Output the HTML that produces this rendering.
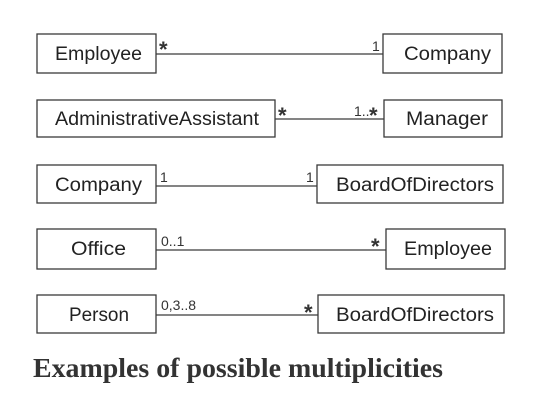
<!DOCTYPE html>
<html><head><meta charset="utf-8"><style>
html,body{margin:0;padding:0;background:#fff;}
svg{display:block;}
.b{fill:#fff;stroke:#3a3a3a;stroke-width:1.3;}
.l{stroke:#3a3a3a;stroke-width:1.3;}
.t{font-family:"Liberation Sans",sans-serif;font-size:19px;fill:#222;}
.m{font-family:"Liberation Sans",sans-serif;font-size:14px;fill:#333;}
.s{font-family:"Liberation Sans",sans-serif;font-size:22px;fill:#333;font-weight:bold;}
.c{font-family:"Liberation Serif",serif;font-size:27px;fill:#333;font-weight:bold;}
</style></head><body>
<svg width="559" height="401" viewBox="0 0 559 401" xmlns="http://www.w3.org/2000/svg">
<line class="l" x1="156" y1="54" x2="383" y2="54"/>
<rect class="b" x="37" y="34" width="119" height="39"/>
<rect class="b" x="383" y="34" width="119" height="39"/>
<text class="t" x="55" y="60" textLength="87" lengthAdjust="spacingAndGlyphs">Employee</text>
<text class="t" x="404" y="60" textLength="87" lengthAdjust="spacingAndGlyphs">Company</text>
<text class="s" x="159" y="57">*</text>
<text class="m" x="372" y="51">1</text>
<line class="l" x1="275" y1="119" x2="384" y2="119"/>
<rect class="b" x="37" y="100" width="238" height="37"/>
<rect class="b" x="384" y="100" width="118" height="37"/>
<text class="t" x="55" y="125" textLength="204" lengthAdjust="spacingAndGlyphs">AdministrativeAssistant</text>
<text class="t" x="406" y="125" textLength="82" lengthAdjust="spacingAndGlyphs">Manager</text>
<text class="s" x="278" y="123">*</text>
<text class="m" x="354" y="116">1..</text>
<text class="s" x="369" y="123">*</text>
<line class="l" x1="156" y1="186" x2="317" y2="186"/>
<rect class="b" x="37" y="165" width="119" height="38"/>
<rect class="b" x="317" y="165" width="186" height="38"/>
<text class="t" x="55" y="191" textLength="87" lengthAdjust="spacingAndGlyphs">Company</text>
<text class="t" x="336" y="191" textLength="158" lengthAdjust="spacingAndGlyphs">BoardOfDirectors</text>
<text class="m" x="160" y="182">1</text>
<text class="m" x="306" y="182">1</text>
<line class="l" x1="156" y1="250" x2="386" y2="250"/>
<rect class="b" x="37" y="229" width="119" height="40"/>
<rect class="b" x="386" y="229" width="119" height="40"/>
<text class="t" x="71" y="255" textLength="55" lengthAdjust="spacingAndGlyphs">Office</text>
<text class="t" x="404" y="255" textLength="88" lengthAdjust="spacingAndGlyphs">Employee</text>
<text class="m" x="161" y="246">0..1</text>
<text class="s" x="371" y="254">*</text>
<line class="l" x1="156" y1="315" x2="318" y2="315"/>
<rect class="b" x="37" y="295" width="119" height="38"/>
<rect class="b" x="318" y="295" width="186" height="38"/>
<text class="t" x="69" y="321" textLength="60" lengthAdjust="spacingAndGlyphs">Person</text>
<text class="t" x="336" y="321" textLength="158" lengthAdjust="spacingAndGlyphs">BoardOfDirectors</text>
<text class="m" x="161" y="310">0,3..8</text>
<text class="s" x="304" y="320">*</text>
<text class="c" x="33" y="377" textLength="410" lengthAdjust="spacingAndGlyphs">Examples of possible multiplicities</text>
</svg>
</body></html>
